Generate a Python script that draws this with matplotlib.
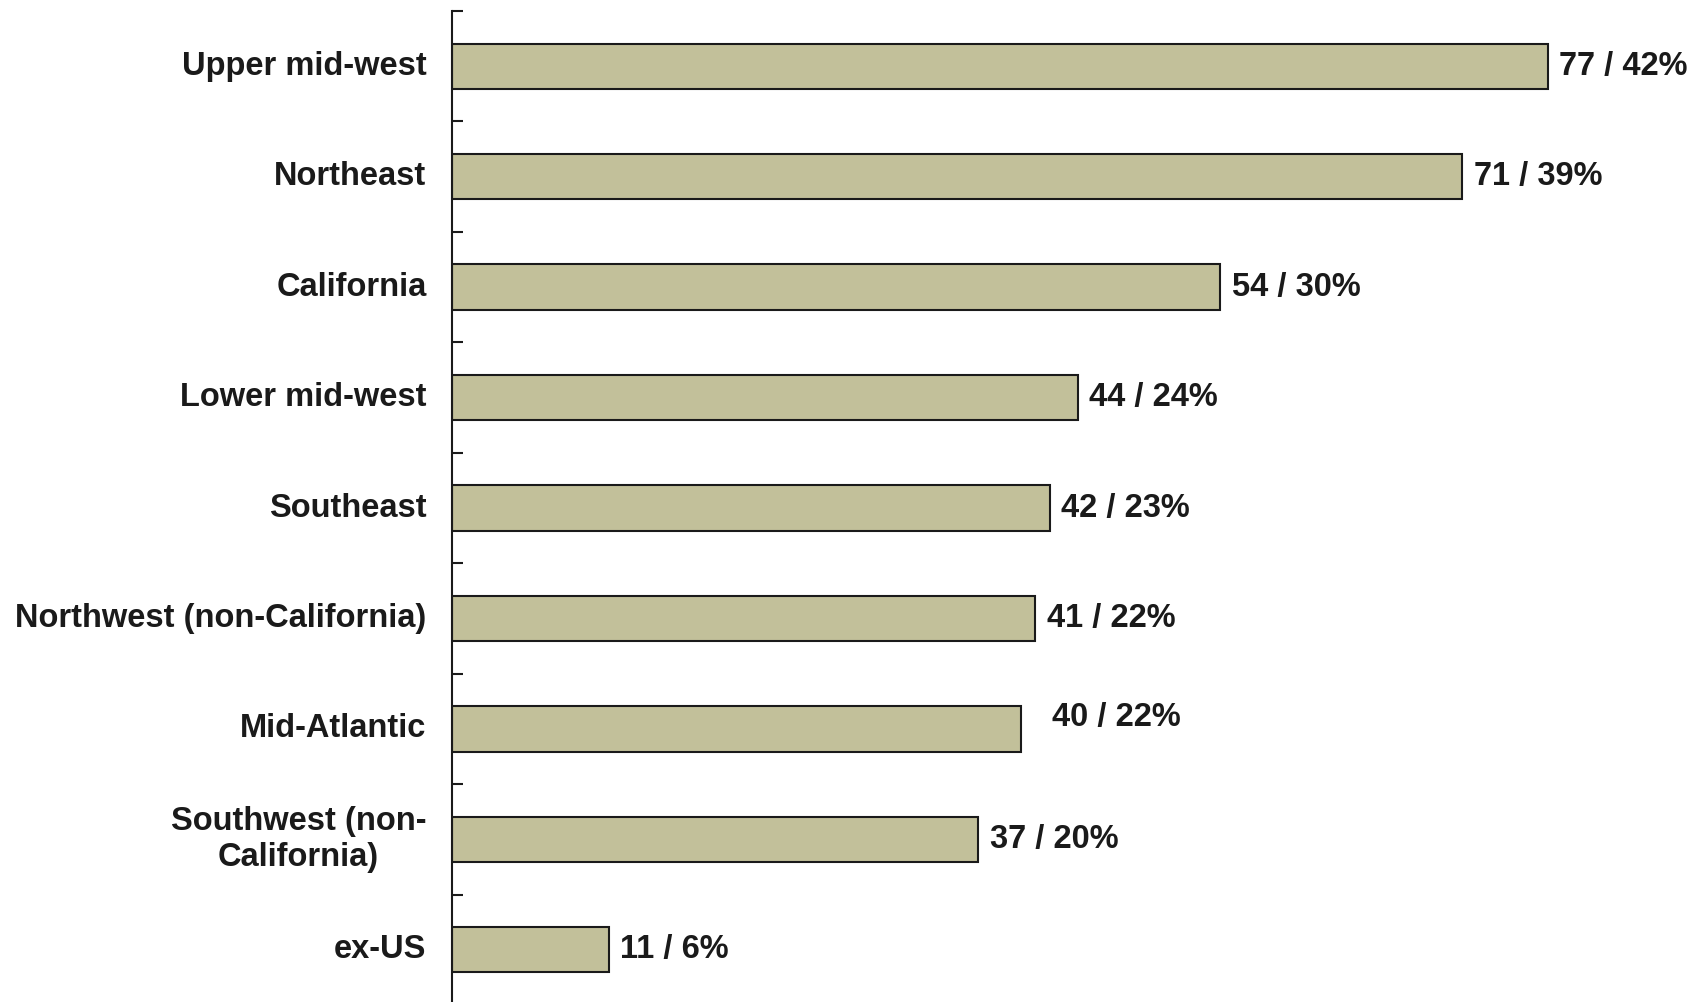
import matplotlib.pyplot as plt

# Regional counts and shares
regions = ["Upper mid-west", "Northeast", "California", "Lower mid-west",
           "Southeast", "Northwest (non-California)", "Mid-Atlantic",
           "Southwest (non-\nCalifornia)", "ex-US"]
counts = [77, 71, 54, 44, 42, 41, 40, 37, 11]
shares = [42, 39, 30, 24, 23, 22, 22, 20, 6]

plt.rcParams['font.family'] = ['Liberation Sans', 'DejaVu Sans']

fig = plt.figure(figsize=(17.04, 10.02), dpi=100)
ax = fig.add_axes([452 / 1704, -0.003, 1 - 452 / 1704, 0.992])

ypos = list(range(len(regions)))
ax.barh(ypos, counts, height=0.41, color='#c2c09a', edgecolor='#1a1a1a',
        linewidth=1.5)

for i, (c, s) in enumerate(zip(counts, shares)):
    dx, dy = 0.8, 0
    if regions[i] == "Mid-Atlantic":
        dx, dy = 2.2, -0.1
    ax.text(c + dx, i + dy, f"{c} / {s}%", va='center', ha='left',
            fontsize=23.5, fontweight='bold', color='#1a1a1a')

ax.set_xlim(0, 88)
ax.set_ylim(len(regions) - 0.5, -0.5)

# category labels drawn by hand so the two-line one stays centred
ax.set_yticks([y - 0.5 for y in ypos] + [len(regions) - 0.5])
ax.set_yticklabels([])
ax.tick_params(axis='y', direction='in', length=8, width=1.5, color='#1a1a1a')
for i, r in enumerate(regions):
    ax.text(-1.8, i, r, ha='right', va='center', multialignment='center',
            fontsize=23.5, fontweight='bold', color='#1a1a1a', linespacing=1.2)

ax.set_xticks([])
for side in ['top', 'right', 'bottom']:
    ax.spines[side].set_visible(False)
ax.spines['left'].set_linewidth(1.5)
ax.spines['left'].set_color('#1a1a1a')

fig.savefig('out.png', dpi=100)
